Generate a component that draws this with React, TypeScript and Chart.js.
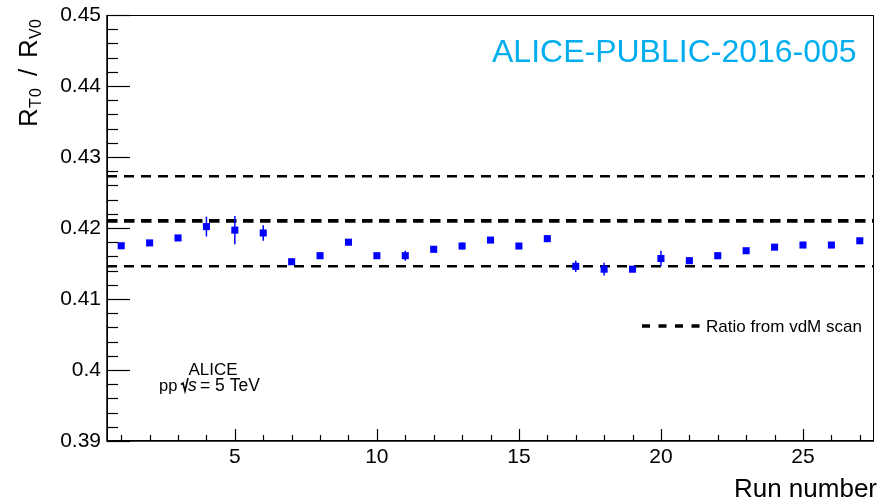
import React, { useEffect, useRef } from 'react';
import { Chart, registerables } from 'chart.js';

Chart.register(...registerables);

const runNumbers = [1, 2, 3, 4, 5, 6, 7, 8, 9, 10, 11, 12, 13, 14, 15, 16, 17, 18, 19, 20, 21, 22, 23, 24, 25, 26, 27];
const ratioValues = [
  0.4175, 0.4179, 0.4186, 0.4202, 0.4197, 0.4193, 0.41525, 0.4161, 0.4180, 0.4161,
  0.4161, 0.4170, 0.41746, 0.4183, 0.41746, 0.4185, 0.4146, 0.4142, 0.4142, 0.4157,
  0.4154, 0.4161, 0.4168, 0.4173, 0.4176, 0.4176, 0.4182,
];
const ratioErrors = [
  0.0002, 0.0003, 0.0002, 0.0014, 0.0020, 0.0011, 0.0002, 0.0002, 0.0002, 0.0002,
  0.0007, 0.0002, 0.0005, 0.0002, 0.0002, 0.0005, 0.0008, 0.0009, 0.0003, 0.0011,
  0.0003, 0.0005, 0.0004, 0.0004, 0.0003, 0.0004, 0.0004,
];
const vdmCentral = 0.4210;
const vdmUpper = 0.4273;
const vdmLower = 0.4146;
const xRange = [0.5, 27.5];
const yRange = [0.39, 0.45];
const xTickValues = [5, 10, 15, 20, 25];
const yTickValues = [0.39, 0.4, 0.41, 0.42, 0.43, 0.44, 0.45];

const FONT = '"Liberation Sans", Arial, Helvetica, sans-serif';

const decorPlugin = {
  id: 'decor',
  afterDatasetsDraw(chart: any) {
    const { ctx, scales } = chart;
    const x = scales.x;
    const y = scales.y;
    ctx.save();
    ctx.strokeStyle = '#0000ff';
    ctx.lineWidth = 1.5;
    for (let i = 0; i < runNumbers.length; i++) {
      const px = x.getPixelForValue(runNumbers[i]);
      const y1 = y.getPixelForValue(ratioValues[i] - ratioErrors[i]);
      const y2 = y.getPixelForValue(ratioValues[i] + ratioErrors[i]);
      ctx.beginPath();
      ctx.moveTo(px, y1);
      ctx.lineTo(px, y2);
      ctx.stroke();
    }
    ctx.restore();
  },
  afterDraw(chart: any) {
    const { ctx, chartArea: a, scales } = chart;
    const x = scales.x;
    const y = scales.y;
    ctx.save();
    // frame
    ctx.strokeStyle = '#000';
    ctx.lineWidth = 1;
    ctx.strokeRect(a.left + 0.5, a.top + 0.5, a.right - a.left - 1, a.bottom - a.top - 1);
    ctx.lineWidth = 1.5;
    ctx.beginPath();
    ctx.moveTo(a.left, a.top);
    ctx.lineTo(a.left, a.bottom);
    ctx.lineTo(a.right, a.bottom);
    ctx.stroke();
    // y ticks
    ctx.lineWidth = 1.2;
    for (let k = 0; k <= 30; k++) {
      const v = yRange[0] + k * 0.002;
      const py = Math.round(y.getPixelForValue(v)) + 0.5;
      const len = k % 5 === 0 ? 23 : 11;
      ctx.beginPath();
      ctx.moveTo(a.left, py);
      ctx.lineTo(a.left + len, py);
      ctx.stroke();
    }
    // x ticks
    for (let r = 1; r <= 27; r++) {
      const px = Math.round(x.getPixelForValue(r)) + 0.5;
      const len = r % 5 === 0 ? 12 : 6;
      ctx.beginPath();
      ctx.moveTo(px, a.bottom);
      ctx.lineTo(px, a.bottom - len);
      ctx.stroke();
    }

    // public note label
    ctx.fillStyle = '#00aeef';
    ctx.font = `32px ${FONT}`;
    ctx.textAlign = 'left';
    ctx.textBaseline = 'alphabetic';
    ctx.fillText('ALICE-PUBLIC-2016-005', 492, 62);

    // ALICE label
    ctx.fillStyle = '#000';
    ctx.font = `17px ${FONT}`;
    ctx.textAlign = 'center';
    ctx.fillText('ALICE', 213, 375);
    ctx.textAlign = 'left';
    ctx.font = `16.5px ${FONT}`;
    ctx.fillText('pp', 159, 391);
    // sqrt sign
    ctx.strokeStyle = '#000';
    ctx.lineWidth = 1.6;
    ctx.beginPath();
    ctx.moveTo(181, 384.5);
    ctx.lineTo(183, 383);
    ctx.lineTo(185, 391);
    ctx.lineTo(188, 378);
    ctx.stroke();
    ctx.font = `italic 17.5px ${FONT}`;
    ctx.fillText('s', 188, 391);
    ctx.font = `17.5px ${FONT}`;
    ctx.fillText('= 5 TeV', 200, 391);

    // legend
    ctx.strokeStyle = '#000';
    ctx.lineWidth = 3.5;
    ctx.setLineDash([8, 8.5]);
    ctx.beginPath();
    ctx.moveTo(642, 326);
    ctx.lineTo(700, 326);
    ctx.stroke();
    ctx.setLineDash([]);
    ctx.font = `17px ${FONT}`;
    ctx.fillText('Ratio from vdM scan', 706, 332);

    // x title
    ctx.font = `26px ${FONT}`;
    ctx.textAlign = 'right';
    ctx.fillText('Run number', 877, 497);

    // y title (rotated)
    ctx.save();
    ctx.translate(37, 127);
    ctx.rotate(-Math.PI / 2);
    ctx.textAlign = 'left';
    ctx.font = `26px ${FONT}`;
    ctx.fillText('R', 0, 0);
    ctx.fillText('/', 51, 0);
    ctx.fillText('R', 69, 0);
    ctx.font = `16px ${FONT}`;
    ctx.fillText('T', 19, 4);
    ctx.fillText('0', 30, 4);
    ctx.fillText('V', 88, 4);
    ctx.fillText('0', 99, 4);
    ctx.restore();

    ctx.restore();
  },
};

export default function App() {
  const canvasRef = useRef<HTMLCanvasElement | null>(null);

  useEffect(() => {
    document.body.style.margin = '0';
    const canvas = canvasRef.current;
    if (!canvas) return;
    const pts = runNumbers.map((r, i) => ({ x: r, y: ratioValues[i] }));
    const line = (v: number) => [
      { x: xRange[0], y: v },
      { x: xRange[1], y: v },
    ];
    const chart = new Chart(canvas, {
      type: 'scatter',
      data: {
        datasets: [
          {
            label: 'data',
            data: pts,
            order: 0,
            pointStyle: 'rect',
            pointRadius: 5,
            pointBorderWidth: 0,
            pointBackgroundColor: '#0000ff',
            pointBorderColor: '#0000ff',
            showLine: false,
          },
          {
            label: 'upper',
            data: line(vdmUpper),
            order: 1,
            showLine: true,
            borderColor: '#000',
            borderWidth: 2.5,
            borderDash: [10, 7],
            pointRadius: 0,
          },
          {
            label: 'Ratio from vdM scan',
            data: line(vdmCentral),
            order: 1,
            showLine: true,
            borderColor: '#000',
            borderWidth: 3.8,
            borderDash: [10.5, 6.5],
            pointRadius: 0,
          },
          {
            label: 'lower',
            data: line(vdmLower),
            order: 1,
            showLine: true,
            borderColor: '#000',
            borderWidth: 2.5,
            borderDash: [10, 7],
            pointRadius: 0,
          },
        ],
      },
      options: {
        responsive: false,
        animation: false,
        layout: { padding: { top: 15, right: 2, left: 0, bottom: 0 } },
        plugins: {
          legend: { display: false },
          tooltip: { enabled: false },
          title: { display: false },
        },
        scales: {
          x: {
            type: 'linear',
            min: xRange[0],
            max: xRange[1],
            grid: { display: false, drawTicks: false },
            border: { display: false },
            afterBuildTicks: (s: any) => {
              s.ticks = xTickValues.map((v) => ({ value: v }));
            },
            afterFit: (s: any) => {
              s.height = 61;
            },
            ticks: {
              color: '#000',
              padding: 4,
              maxRotation: 0,
              autoSkip: false,
              font: { family: FONT, size: 21, lineHeight: 1.2 },
              callback: (v: any) => String(v),
            },
          },
          y: {
            type: 'linear',
            min: yRange[0],
            max: yRange[1],
            grid: { display: false, drawTicks: false },
            border: { display: false },
            afterBuildTicks: (s: any) => {
              s.ticks = yTickValues.map((v) => ({ value: v }));
            },
            afterFit: (s: any) => {
              s.width = 107;
              s.paddingTop = 0;
              s.paddingBottom = 0;
            },
            ticks: {
              color: '#000',
              padding: 6,
              autoSkip: false,
              font: { family: FONT, size: 21, lineHeight: 1 },
              callback: (v: any) => String(Number(Number(v).toFixed(2))),
            },
          },
        },
      },
      plugins: [decorPlugin],
    });
    return () => chart.destroy();
  }, []);

  return (
    <div style={{ position: 'absolute', left: 0, top: 0, width: 879, height: 502, background: '#fff' }}>
      <canvas ref={canvasRef} width={879} height={502} style={{ display: 'block' }} />
    </div>
  );
}
